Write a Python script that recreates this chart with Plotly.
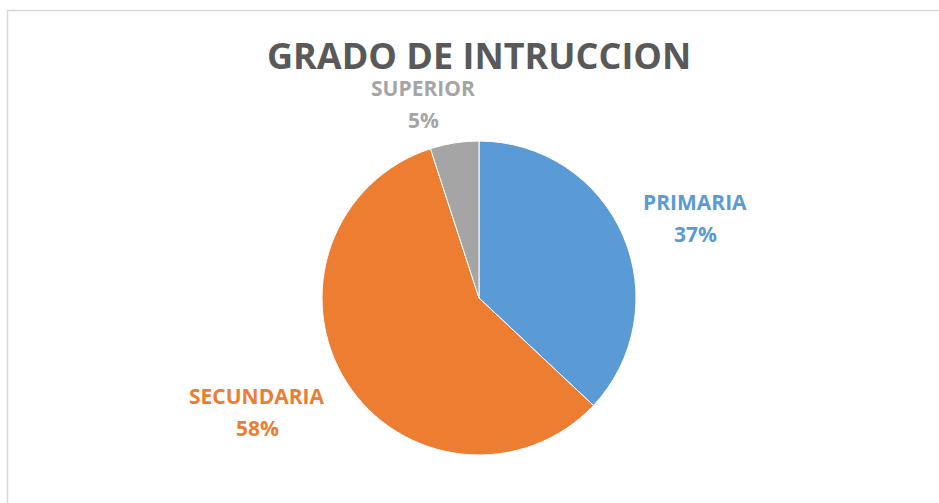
import plotly.graph_objects as go

categories = ["PRIMARIA", "SECUNDARIA", "SUPERIOR"]
values = [37, 58, 5]
colors = ["#5B9BD5", "#ED7D31", "#A5A5A5"]
title_text = "GRADO DE INTRUCCION"

W, H = 939, 503
cx, cy, r = 479, 298, 157

fig = go.Figure(go.Pie(
    labels=categories,
    values=values,
    marker=dict(colors=colors, line=dict(color="white", width=1)),
    sort=False,
    direction="clockwise",
    rotation=0,
    textinfo="none",
    hoverinfo="label+percent",
    showlegend=False,
    domain=dict(x=[(cx - r) / W, (cx + r) / W], y=[(H - cy - r) / H, (H - cy + r) / H]),
))

total = sum(values)
# (x center, y of name line, y of percent line) in pixels
label_pos = {"PRIMARIA": (695, 202, 234), "SECUNDARIA": (257, 396, 428), "SUPERIOR": (423, 88, 120)}
for cat, val, col in zip(categories, values, colors):
    px, py1, py2 = label_pos[cat]
    pct = round(100 * val / total)
    for txt, py in ((cat, py1), (f"{pct}%", py2)):
        fig.add_annotation(
            x=px / W, y=1 - py / H, xref="paper", yref="paper",
            xanchor="center", yanchor="middle",
            text=f"<b>{txt}</b>", showarrow=False,
            font=dict(family="Open Sans", size=21, color=col),
        )

fig.add_annotation(
    x=479 / W, y=1 - 56 / H, xref="paper", yref="paper",
    xanchor="center", yanchor="middle",
    text=f"<b>{title_text}</b>", showarrow=False,
    font=dict(family="Open Sans", size=36, color="#595959"),
)

fig.add_shape(type="rect", xref="paper", yref="paper",
              x0=7.5 / W, x1=1.02, y0=-0.02, y1=1 - 10.5 / H,
              line=dict(color="#D9D9D9", width=1.5), fillcolor="rgba(0,0,0,0)")

fig.update_layout(
    width=W, height=H,
    margin=dict(l=0, r=0, t=0, b=0),
    paper_bgcolor="white", plot_bgcolor="white",
)

fig.write_html("out.html", config={"displayModeBar": False},
               post_script="document.body.style.margin='0';")
